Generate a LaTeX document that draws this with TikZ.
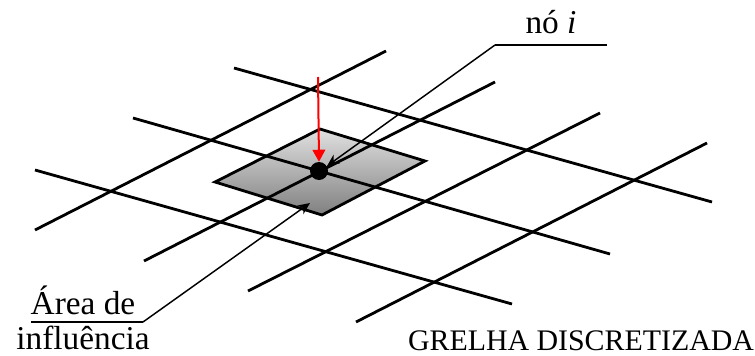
\documentclass[tikz,border=0pt]{standalone}
\usepackage{fontspec}
\setmainfont{Liberation Serif}
\usetikzlibrary{arrows.meta}
\tikzset{
  gridline/.style={line width=2.1pt,black},
  leader/.style={line width=1.1pt,black,-{Stealth[length=9pt,width=8pt]}},
  rule/.style={line width=1.1pt,black},
  lbl/.style={inner sep=0pt,anchor=base,font=\fontsize{25pt}{30pt}\selectfont},
  lblsm/.style={inner sep=0pt,anchor=base,font=\fontsize{22.4pt}{26pt}\selectfont},
}
\begin{document}
\begin{tikzpicture}[x=0.75pt,y=-0.75pt]
\useasboundingbox (0,0) rectangle (755,356);
% influence area
\coordinate (dt) at (320,129);
\coordinate (dr) at (425,161);
\coordinate (db) at (322,215);
\coordinate (dl) at (215,182);
\begin{scope}
\clip (dt)--(dr)--(db)--(dl)--cycle;
\shade[top color=black!12,bottom color=black!50] (215,129) rectangle (425,215);
\end{scope}
\draw[gridline,line join=miter] (dt)--(dr)--(db)--(dl)--cycle;
% grid
\coordinate (h1a) at (234,68);  \coordinate (h1b) at (712,202);
\coordinate (h2a) at (133,118); \coordinate (h2b) at (610,254);
\coordinate (h3a) at (35,170);  \coordinate (h3b) at (512,304);
\coordinate (v1a) at (35,230);  \coordinate (v1b) at (386,51);
\coordinate (v2a) at (144,261); \coordinate (v2b) at (495,82);
\coordinate (v3a) at (248,291); \coordinate (v3b) at (600,113);
\coordinate (v4a) at (356,322); \coordinate (v4b) at (707,143);
\foreach \n in {h1,h2,h3,v1,v2,v3,v4} \draw[gridline] (\n a) -- (\n b);
% central node
\node[circle,fill=black,minimum size=13.5pt,inner sep=0pt] (no) at (319,171) {};
% red load
\coordinate (load) at (318,77);
\draw[line width=1.5pt,red,-{Triangle[length=9pt,width=9.5pt]}] (load) -- (no.north);
% labels
\node[lbl] (noi) at (551,34) {nó \textit{i}};
\node[lbl] (area) at (83,314) {Área de};
\node[lbl] (infl) at (83,349) {influência};
\node[lblsm] (grelha) at (581,350) {GRELHA DISCRETIZADA};
% leaders
\coordinate (n1) at (607,45); \coordinate (n2) at (495,45); \coordinate (n3) at (327,166);
\coordinate (a1) at (31,322); \coordinate (a2) at (143,322); \coordinate (a3) at (310,203);
\draw[rule] (n1) -- (n2);
\draw[leader] (n2) -- (n3);
\draw[rule] (a1) -- (a2);
\draw[leader] (a2) -- (a3);
\end{tikzpicture}
\end{document}
